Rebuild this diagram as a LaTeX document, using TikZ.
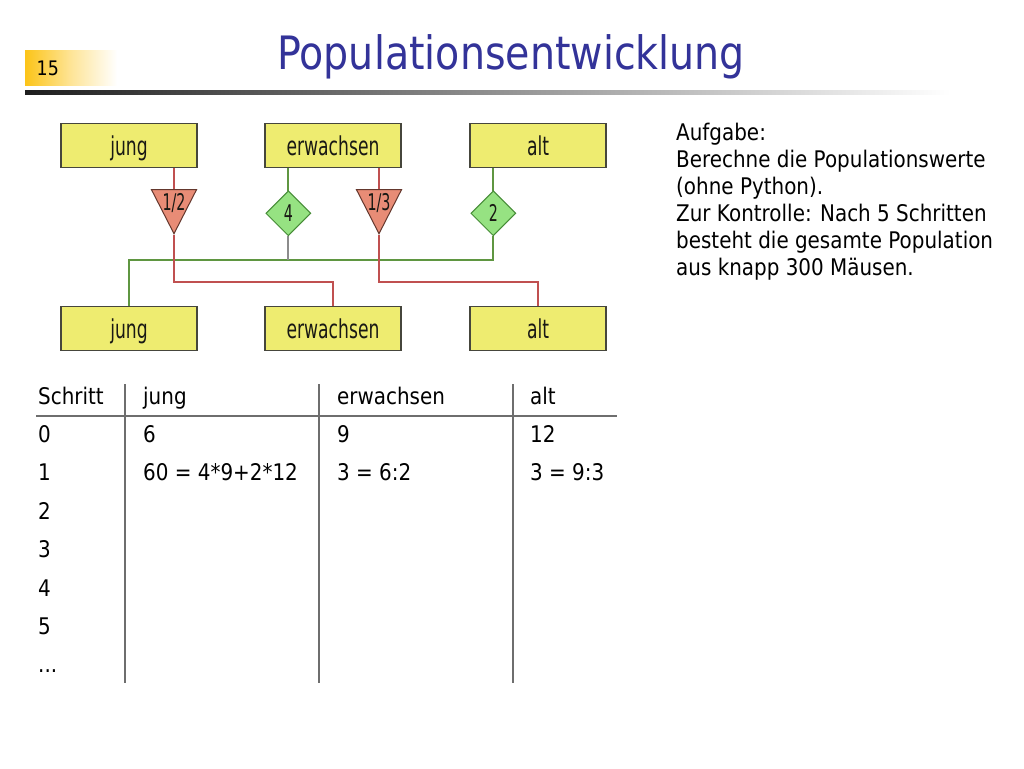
\documentclass[tikz,border=0pt]{standalone}
\usepackage{fontspec}
\setmainfont{DejaVu Sans}
\newfontfamily\titlefont{DejaVu Sans}[FakeStretch=0.86]
\newfontfamily\boxfont{DejaVu Sans}[FakeStretch=0.66]
\newfontfamily\smallfont{DejaVu Sans}[FakeStretch=0.62]
\newfontfamily\bodyfont{DejaVu Sans}[FakeStretch=0.87]
\usetikzlibrary{shapes.geometric}
\definecolor{numyellow}{RGB}{252,196,24}
\definecolor{titleblue}{RGB}{51,51,153}
\definecolor{rulegray}{RGB}{30,30,30}
\definecolor{boxfill}{RGB}{238,236,112}
\definecolor{boxborder}{RGB}{70,70,60}
\definecolor{labeltext}{RGB}{25,25,20}
\definecolor{trifill}{RGB}{232,140,118}
\definecolor{tribord}{RGB}{100,55,45}
\definecolor{diafill}{RGB}{150,226,130}
\definecolor{diabord}{RGB}{70,140,55}
\definecolor{redline}{RGB}{192,80,80}
\definecolor{greenline}{RGB}{95,150,65}
\definecolor{grayline}{RGB}{140,140,140}
\definecolor{tabline}{RGB}{110,110,110}
\begin{document}
\begin{tikzpicture}[x=1pt,y=-1pt,
  txt/.style={inner sep=0pt, anchor=base west, font=\bodyfont\fontsize{22.9}{27}\selectfont, text=black},
  box/.style={draw=boxborder, line width=1.2pt, fill=boxfill, minimum width=136pt, minimum height=44.4pt,
    inner sep=0pt, text height=19.5pt, text depth=0pt, font=\boxfont\fontsize{26}{30}\selectfont, text=labeltext},
  tri/.style={isosceles triangle, isosceles triangle stretches, shape border rotate=-90,
    minimum width=45pt, minimum height=44pt, inner sep=0pt, draw=tribord, fill=trifill, line width=1pt},
  dia/.style={diamond, minimum width=45pt, minimum height=45pt, inner sep=0pt, draw=diabord, fill=diafill,
    line width=1pt, text height=16pt, text depth=0pt, font=\smallfont\fontsize{23}{26}\selectfont, text=labeltext},
  small/.style={inner sep=0pt, font=\smallfont\fontsize{23}{26}\selectfont, text=labeltext},
  redl/.style={draw=redline, line width=2.2pt},
  grnl/.style={draw=greenline, line width=2.2pt},
  gryl/.style={draw=grayline, line width=2.2pt},
  tab/.style={draw=tabline, line width=1.2pt}]
\useasboundingbox (0,0) rectangle (1024,768);
\fill[white] (0,0) rectangle (1024,768);

% header
\shade[left color=numyellow, right color=white, middle color=numyellow!45] (25,50.7) rectangle (117,85);
\node[txt, font=\bodyfont\fontsize{20}{24}\selectfont] (pn) at (36.5,75) {15};
\node[inner sep=0pt, anchor=base, font=\titlefont\fontsize{46}{54}\selectfont, text=titleblue] (title) at (511,70) {Populationsentwicklung};
\shade[left color=rulegray, right color=white] (25,90) rectangle (950,94);

% diagram nodes
\node[box] (jungT) at (129,145.5) {jung};
\node[box] (ewT) at (333,145.5) {erwachsen};
\node[box] (altT) at (538,145.5) {alt};
\node[box] (jungB) at (129,328.4) {jung};
\node[box] (ewB) at (333,328.4) {erwachsen};
\node[box] (altB) at (538,328.4) {alt};

\coordinate (gj) at (288.3,260);

% connectors (green first)
\draw[grnl] (ewT.south -| 288.3,0) -- (288.3,191);
\draw[grnl] (altT.south -| 493.3,0) -- (493.3,191);
\draw[grnl] (493.3,235.5) -- ++(0,24.5) -| (jungB.north);
\draw[gryl] (288.3,235.5) -- (gj);
\draw[redl] (jungT.south -| 174,0) -- (174,191);
\draw[redl] (174,235) -- ++(0,47) -| (ewB.north);
\draw[redl] (ewT.south -| 379,0) -- (379,191);
\draw[redl] (379,235) -- ++(0,47) -| (altB.north);

\node[tri, anchor=apex] (t1) at (174,235) {};
\node[tri, anchor=apex] (t2) at (379,235) {};
\node[small] (t1l) at (174,203.5) {1/2};
\node[small] (t2l) at (379,203.5) {1/3};
\node[dia] (d4) at (288.3,213.3) {4};
\node[dia] (d2) at (493.3,213.3) {2};

% task text
\node[txt] (a1) at (676,140) {Aufgabe:};
\node[txt] (a2) at (676,167) {Berechne die Populationswerte};
\node[txt] (a3) at (676,194) {(ohne Python).};
\node[txt] (a4) at (676,221) {Zur Kontrolle: Nach 5 Schritten};
\node[txt] (a5) at (676,248) {besteht die gesamte Population};
\node[txt] (a6) at (676,275) {aus knapp 300 Mäusen.};

% table
\draw[tab] (36,416) -- (617,416);
\draw[tab] (125,384) -- (125,683);
\draw[tab] (319,384) -- (319,683);
\draw[tab] (513,384) -- (513,683);
\node[txt] (h0) at (38,404) {Schritt};
\node[txt] (h1) at (143,404) {jung};
\node[txt] (h2) at (337,404) {erwachsen};
\node[txt] (h3) at (530,404) {alt};
\node[txt] (s0) at (38,442.4) {0};
\node[txt] (j0) at (143,442.4) {6};
\node[txt] (e0) at (337,442.4) {9};
\node[txt] (l0) at (530,442.4) {12};
\node[txt] (s1) at (38,480.8) {1};
\node[txt] (j1) at (143,480.8) {60 = 4*9+2*12};
\node[txt] (e1) at (337,480.8) {3 = 6:2};
\node[txt] (l1) at (530,480.8) {3 = 9:3};
\node[txt] (s2) at (38,519.2) {2};
\node[txt] (s3) at (38,557.6) {3};
\node[txt] (s4) at (38,596) {4};
\node[txt] (s5) at (38,634.4) {5};
\node[txt] (s6) at (38,672.8) {...};
\end{tikzpicture}
\end{document}
